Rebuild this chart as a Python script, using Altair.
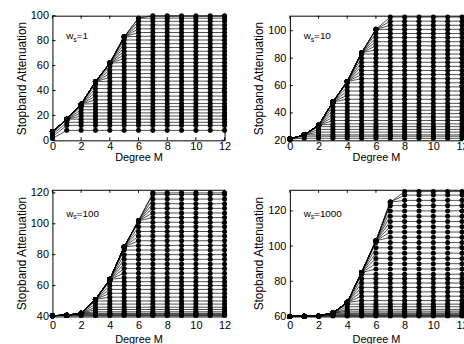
import altair as alt
import pandas as pd

FONT = "Liberation Sans"

M = list(range(13))
x_ticks = [0, 2, 4, 6, 8, 10, 12]

# ---- panel data ----
labels = ["1", "10", "100", "1000"]

env1 = [7, 17, 29, 47, 62, 83, 98, 100, 100, 100, 100, 100, 100]
caps1 = [8, 12, 14.5, 17, 19.5, 22, 24.5, 27, 29.5, 32.5, 35.5, 38.5, 41.5, 44.5,
         47.5, 50.5, 53.5, 56.5, 59.5, 62.5, 65.5, 68.5, 71.5, 74.5, 77.5, 80.5,
         83.5, 86.5, 89.5, 92.5, 95.5, 98, 100]
start1 = [1.5, 3, 4.5, 5.5, 6.5]

env2 = [21, 24, 31, 48, 63, 84, 101, 110, 110, 110, 110, 110, 110]
caps2 = [21.5, 23, 24, 26, 28, 30, 32, 34.5, 37, 39.5, 42, 44.5, 47, 50, 53, 56,
         59, 62, 65, 68, 71, 74, 77, 80, 83, 86, 89, 92, 95, 98, 101, 104, 107, 110]
start2 = []

env3 = [40.5, 40.8, 42, 51, 64, 85, 102, 120, 120, 120, 120, 120, 120]
caps3 = [40.6, 41, 41.5, 42, 43, 44.5, 46, 48, 50, 52.5, 55, 57.5, 60, 62.5, 65,
         68, 71, 74, 77, 80, 83, 86, 89, 92, 95, 98, 101, 104, 107, 110, 113, 116,
         119, 120]
start3 = []

env4 = [60, 60.1, 60.3, 62, 68, 85, 103, 125, 131, 131, 131, 131, 131]
caps4 = [60.2, 60.5, 61, 61.5, 62, 63, 64, 65.5, 67, 69, 71.5, 74, 76.5, 79, 81.5,
         84, 87, 90, 93, 96, 99, 102, 105, 108, 111, 114, 117, 120, 123, 126, 129, 131]
start4 = []

y_domains = [[0, 100], [20, 111], [40, 122], [60, 132]]
y_ticks = [[0, 20, 40, 60, 80, 100], [20, 40, 60, 80, 100],
           [40, 60, 80, 100, 120], [60, 80, 100, 120]]

envs = [env1, env2, env3, env4]
caps = [caps1, caps2, caps3, caps4]
starts = [start1, start2, start3, start4]

W = 174
heights = [126, 126, 128, 128]
x_label_pad = [0, 0, 3, 3]
x_title_pad = [0, 0, 3, 3]


def build_df(env, cp, st):
    rows = []
    for k, c in enumerate(cp):
        for m in M:
            v = min(env[m], c)
            if m == 0 and k < len(st):
                v = st[k]
            rows.append({"series": k, "M": m, "A": v})
    return pd.DataFrame(rows)


def panel(i):
    H = heights[i]
    df = build_df(envs[i], caps[i], starts[i])
    xs = alt.Scale(domain=[0, 12], nice=False, zero=False)
    ys = alt.Scale(domain=y_domains[i], nice=False, zero=False)
    x = alt.X("M:Q", scale=xs, axis=alt.Axis(values=x_ticks, title="Degree M",
                                             labelFlush=False,
                                             labelPadding=x_label_pad[i],
                                             titlePadding=x_title_pad[i],
                                             titleFontSize=11))
    y = alt.Y("A:Q", scale=ys, axis=alt.Axis(values=y_ticks[i],
                                             title="Stopband Attenuation",
                                             labelPadding=4, titlePadding=2,
                                             titleFontSize=12))
    lines = alt.Chart(df).mark_line(color="black", strokeWidth=0.7).encode(
        x=x, y=y, detail="series:N")
    pts = alt.Chart(df).mark_circle(color="black", size=26, opacity=1).encode(
        x=x, y=y)

    xt = pd.DataFrame({"M": x_ticks})
    yt = pd.DataFrame({"A": y_ticks[i]})
    tk = dict(color="black", strokeWidth=1)
    t_top = alt.Chart(xt).mark_rule(**tk).encode(x=x, y=alt.value(0), y2=alt.value(3))
    t_bot = alt.Chart(xt).mark_rule(**tk).encode(x=x, y=alt.value(H), y2=alt.value(H - 3))
    t_left = alt.Chart(yt).mark_rule(**tk).encode(y=y, x=alt.value(0), x2=alt.value(3))
    t_right = alt.Chart(yt).mark_rule(**tk).encode(y=y, x=alt.value(W), x2=alt.value(W - 3))

    ann = pd.DataFrame({"a": [0]})
    base = alt.Chart(ann)
    off = (i // 2) * 3
    w = base.mark_text(text="w", align="left", baseline="alphabetic", fontSize=10,
                       font=FONT, color="black").encode(x=alt.value(14), y=alt.value(24 + off))
    s = base.mark_text(text="s", align="left", baseline="alphabetic", fontSize=7,
                       font=FONT, color="black").encode(x=alt.value(21), y=alt.value(27 + off))
    eq = base.mark_text(text="=" + labels[i], align="left", baseline="alphabetic",
                        fontSize=10, font=FONT, color="black").encode(
        x=alt.value(24.5), y=alt.value(24 + off))

    return alt.layer(lines, pts, t_top, t_bot, t_left, t_right, w, s, eq).properties(
        width=W, height=H)


row1 = alt.hconcat(panel(0), panel(1), spacing=21)
row2 = alt.hconcat(panel(2), panel(3), spacing=21)
chart = alt.vconcat(row1, row2, spacing=23).properties(
    padding={"left": 15, "top": 7, "right": -5, "bottom": -3},
    background="white",
).configure_view(stroke="black", strokeWidth=1).configure_axis(
    domain=False, ticks=False, tickSize=0, grid=False, labelFont=FONT,
    titleFont=FONT, labelFontSize=11, labelColor="black", titleColor="black",
    titleFontWeight="normal")

chart.save("out.html", embed_options={"renderer": "svg", "actions": False})
